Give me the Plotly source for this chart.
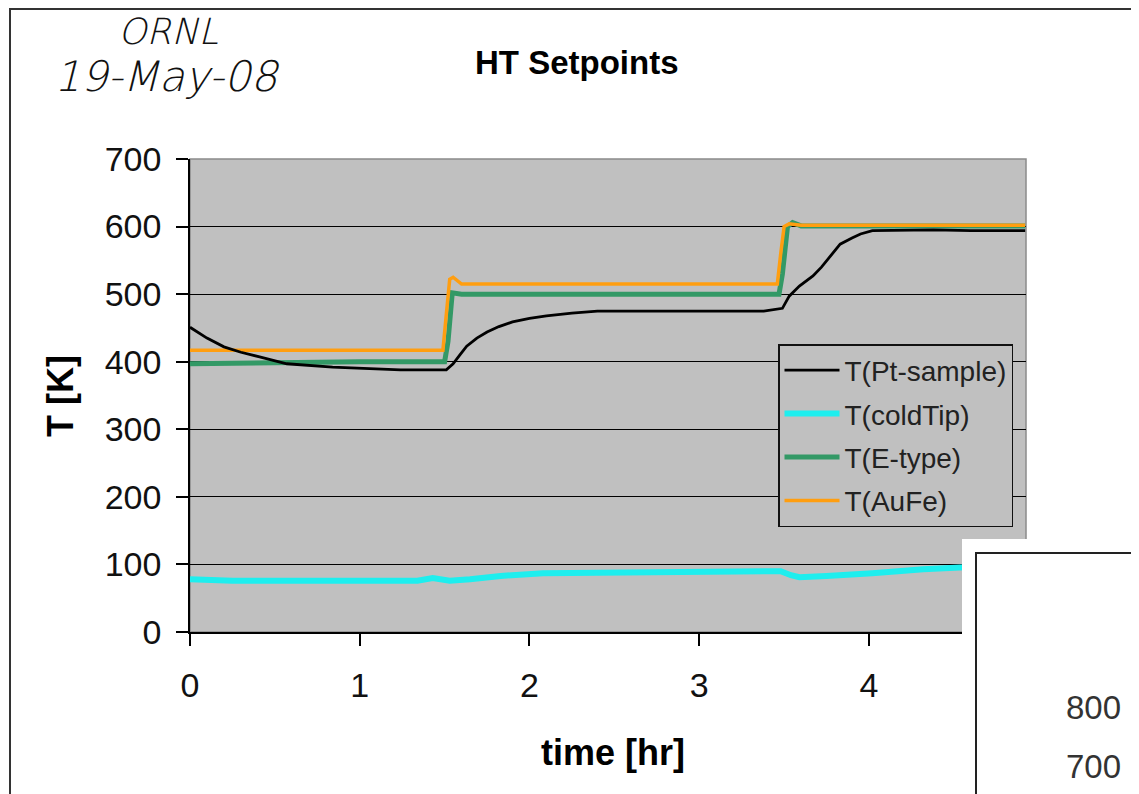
import plotly.graph_objects as go

# ---- data ----
t_pt = [0, 0.1, 0.2, 0.3, 0.41, 0.57, 0.84, 1.0, 1.24, 1.51, 1.55, 1.59, 1.63, 1.69, 1.75, 1.82,
        1.90, 2.0, 2.10, 2.25, 2.40, 2.8, 3.2, 3.38, 3.49, 3.53, 3.59, 3.67, 3.72, 3.78, 3.83, 3.90,
        3.95, 4.02, 4.2, 4.38, 4.6, 4.92]
T_pt = [451, 435, 422, 414, 407, 397, 392, 390, 388, 388, 397, 410, 423, 435, 444, 452,
        459, 464, 468, 472, 475, 475, 475, 475, 479, 497, 512, 527, 540, 558, 574, 583,
        589, 594, 595, 595, 594, 594]

t_cold = [0, 0.25, 0.6, 1.0, 1.34, 1.43, 1.53, 1.65, 1.83, 2.08, 2.4, 2.71, 3.1, 3.48, 3.54,
          3.59, 3.75, 3.9, 4.02, 4.32, 4.52, 4.7, 4.92]
T_cold = [78, 76, 76, 76, 76, 80, 76, 78, 83, 87, 88, 89, 89, 90, 84,
          81, 83, 85, 87, 93, 96, 98, 100]

t_e = [0, 0.3, 0.6, 1.0, 1.5, 1.52, 1.545, 1.6, 2.5, 3.47, 3.49, 3.52, 3.55, 3.6, 4.92]
T_e = [397, 398, 400, 400, 400, 430, 502, 500, 500, 500, 530, 600, 606, 601, 601]

t_au = [0, 1.0, 1.49, 1.51, 1.53, 1.55, 1.6, 2.5, 3.46, 3.48, 3.50, 3.53, 3.6, 4.92]
T_au = [417, 417, 417, 470, 522, 525, 515, 515, 515, 560, 600, 604, 602, 602]

x_ticks = [0, 1, 2, 3, 4]
y_ticks = [0, 100, 200, 300, 400, 500, 600, 700]
side_labels = ["800", "700"]

fig = go.Figure()
fig.add_trace(go.Scatter(x=t_cold, y=T_cold, mode="lines", name="T(coldTip)", legendrank=2,
                         legendgroup="b", line=dict(color="#1EEEEE", width=6)))
fig.add_trace(go.Scatter(x=t_e, y=T_e, mode="lines", name="T(E-type)", legendrank=3,
                         legendgroup="c", line=dict(color="#339966", width=5)))
fig.add_trace(go.Scatter(x=t_au, y=T_au, mode="lines", name="T(AuFe)", legendrank=4,
                         legendgroup="d", line=dict(color="#FF9E10", width=3.5)))
fig.add_trace(go.Scatter(x=t_pt, y=T_pt, mode="lines", name="T(Pt-sample)", legendrank=1,
                         legendgroup="a", line=dict(color="#000000", width=2.8)))

OFF = 8  # page body margin
W, H = 1131, 786
L, R, T, B = 182, 113, 151, 162
pw, ph = W - L - R, H - T - B


def px(x):
    return (x - OFF - L) / pw


def py(y):
    return (H - B - (y - OFF)) / ph


def ann(text, x, y, size, color="#000", family=None, xanchor="center", angle=0):
    f = dict(size=size, color=color)
    if family:
        f["family"] = family
    return dict(text=text, x=px(x), y=py(y), xref="paper", yref="paper", showarrow=False,
                xanchor=xanchor, yanchor="middle", textangle=angle, font=f)


fig.update_layout(
    width=W, height=H,
    margin=dict(l=L, r=R, t=T, b=B),
    paper_bgcolor="white",
    plot_bgcolor="#C0C0C0",
    font=dict(family="Liberation Sans, Arial, sans-serif", color="#111"),
    showlegend=True,
    legend=dict(x=px(778), y=py(344), xanchor="left", yanchor="top",
                bgcolor="#C0C0C0", bordercolor="#111", borderwidth=1.5, itemwidth=55,
                font=dict(size=28, color="#222"), tracegroupgap=4),
    xaxis=dict(range=[0, 4.925], tickvals=x_ticks, ticktext=[str(v) for v in x_ticks],
               showgrid=False, zeroline=False, showline=True, linecolor="#000", linewidth=1.5,
               ticks="outside", ticklen=12, tickwidth=1.5, tickcolor="#000",
               tickfont=dict(size=34, color="#111"), ticklabelstandoff=10),
    yaxis=dict(range=[0, 700], tickvals=y_ticks, ticktext=[str(v) for v in y_ticks],
               showgrid=True, gridcolor="#000", gridwidth=1.2, zeroline=False,
               showline=True, linecolor="#000", linewidth=1.5,
               ticks="outside", ticklen=12, tickwidth=1.5, tickcolor="#000",
               tickfont=dict(size=34, color="#111"), ticklabelstandoff=8),
    shapes=[
        # outer border
        dict(type="rect", xref="paper", yref="paper", x0=px(10), x1=1.4, y0=-0.6, y1=py(9),
             line=dict(color="#333", width=2), layer="below"),
        # plot area border
        dict(type="rect", xref="paper", yref="paper", x0=0, x1=1, y0=0, y1=1,
             line=dict(color="#8a8a8a", width=1.5), layer="between"),
        # overlapping pasted panel
        dict(type="rect", xref="paper", yref="paper", x0=px(962), x1=1.4, y0=-0.6, y1=py(539),
             fillcolor="white", line=dict(width=0), layer="above"),
        dict(type="rect", xref="paper", yref="paper", x0=px(976), x1=1.4, y0=-0.6, y1=py(553),
             line=dict(color="#222", width=2), layer="above"),
    ],
    annotations=[
        ann("<b>HT Setpoints</b>", 577, 63, 33),
        ann("<b>T [K]</b>", 60, 396, 36, angle=-90),
        ann("<b>time [hr]</b>", 613, 752, 36),
        ann("<i>ORNL</i>", 168, 31, 36, "#111", "DejaVu Sans Light, DejaVu Sans"),
        ann("<i>19-May-08</i>", 167, 76, 42, "#111", "DejaVu Sans Light, DejaVu Sans"),
        ann(side_labels[0], 1123, 707, 33, "#333", xanchor="right"),
        ann(side_labels[1], 1123, 766, 33, "#333", xanchor="right"),
    ],
)

fig.write_html("out.html")
